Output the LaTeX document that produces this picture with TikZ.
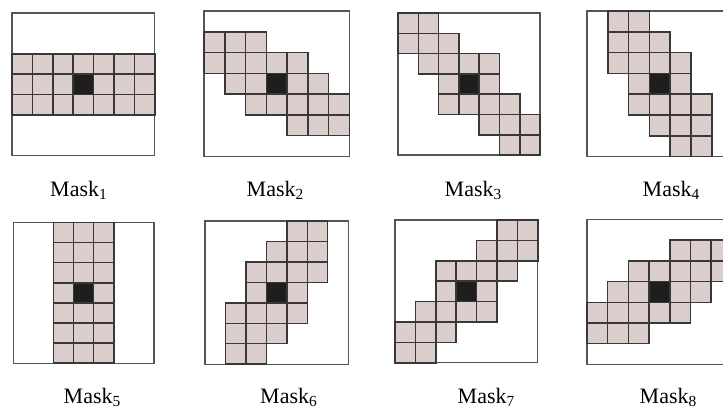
\documentclass[tikz,border=0pt]{standalone}
\usepackage{fontspec}
\setmainfont{Liberation Serif}
\definecolor{cellpink}{HTML}{DCCDCD}
\definecolor{gridgray}{HTML}{383838}
\definecolor{boxgray}{HTML}{555555}
\definecolor{centerblack}{HTML}{1E1E1E}
\tikzset{
  cellsq/.style={fill=cellpink, draw=gridgray, line width=1.5pt},
  centersq/.style={fill=centerblack, draw=gridgray, line width=1.5pt},
  maskframe/.style={draw=boxgray, line width=1.3pt},
  lbl/.style={font=\fontsize{22}{26}\selectfont, anchor=base west, inner sep=0pt}
}
\newcommand\drawmaskgrid[4]{%
  \begin{scope}[xshift=#1pt, yshift=-#2pt, x=#3pt, y=-#3pt]
    \draw[maskframe] (0,0) rectangle (7,7);
    \foreach \r/\a/\b in {#4} {
      \foreach \c in {\a,...,\b} {
        \draw[cellsq] (\c,\r) rectangle ++(1,1);
      }
    }
    \draw[centersq] (3,3) rectangle (4,4);
  \end{scope}}
\begin{document}
\begin{tikzpicture}[x=1pt, y=-1pt]
  \useasboundingbox (0,0) rectangle (723,408);
  \clip (0,0) rectangle (723,408);
  \fill[white] (0,0) rectangle (723,408);
  % top row
  \drawmaskgrid{12}{13}{20.4}{2/0/6, 3/0/6, 4/0/6}
  \drawmaskgrid{204}{11}{20.75}{1/0/2, 2/0/4, 3/1/5, 4/2/6, 5/4/6}
  \drawmaskgrid{398}{13}{20.3}{0/0/1, 1/0/2, 2/1/4, 3/2/4, 4/2/5, 5/4/6, 6/5/6}
  \drawmaskgrid{587}{11}{20.8}{0/1/2, 1/1/3, 2/1/4, 3/2/4, 4/2/5, 5/3/5, 6/4/5}
  % bottom row
  \drawmaskgrid{13.3}{222.5}{20.1}{0/2/4, 1/2/4, 2/2/4, 3/2/4, 4/2/4, 5/2/4, 6/2/4}
  \drawmaskgrid{205}{221}{20.45}{0/4/5, 1/3/5, 2/2/5, 3/2/4, 4/1/4, 5/1/3, 6/1/2}
  \drawmaskgrid{395}{220}{20.4}{0/5/6, 1/4/6, 2/2/5, 3/2/4, 4/1/4, 5/0/2, 6/0/1}
  \drawmaskgrid{587}{219.5}{20.7}{1/4/6, 2/2/6, 3/1/5, 4/0/4, 5/0/2}
  % labels
  \node[lbl] (m1) at (50,196.5) {Mask\textsubscript{1}};
  \node[lbl] (m2) at (246.5,196.5) {Mask\textsubscript{2}};
  \node[lbl] (m3) at (444.5,196.5) {Mask\textsubscript{3}};
  \node[lbl] (m4) at (642.5,196.5) {Mask\textsubscript{4}};
  \node[lbl] (m5) at (63.5,403) {Mask\textsubscript{5}};
  \node[lbl] (m6) at (260,403) {Mask\textsubscript{6}};
  \node[lbl] (m7) at (457.5,403) {Mask\textsubscript{7}};
  \node[lbl] (m8) at (639.5,403) {Mask\textsubscript{8}};
\end{tikzpicture}
\end{document}
